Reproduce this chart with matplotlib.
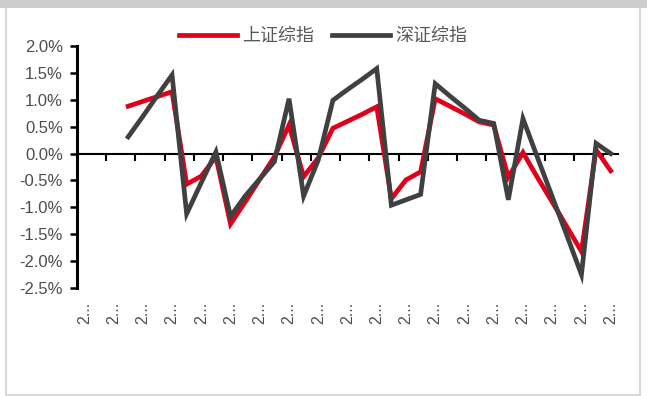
import numpy as np
import matplotlib.pyplot as plt
from matplotlib.patches import Rectangle
from matplotlib.ticker import FuncFormatter

plt.rcParams['font.family'] = ['Liberation Sans', 'DejaVu Sans']

# daily change, %; first three days have no data
nan = np.nan
sh_comp = [nan, nan, nan, 0.88, 0.97, 1.06, 1.15, -0.57, -0.42, -0.06, -1.31, -0.90, -0.48,
           -0.06, 0.53, -0.43, -0.08, 0.47, 0.60, 0.73, 0.87, -0.84, -0.49, -0.34, 1.02,
           0.88, 0.74, 0.59, 0.53, -0.44, 0.02, -0.45, -0.90, -1.36, -1.82, 0.07, -0.32]
sz_comp = [nan, nan, nan, 0.31, 0.69, 1.08, 1.46, -1.12, -0.54, 0.03, -1.17, -0.79, -0.47,
           -0.15, 1.02, -0.79, -0.12, 0.99, 1.19, 1.38, 1.58, -0.96, -0.86, -0.76, 1.30,
           1.07, 0.85, 0.62, 0.56, -0.86, 0.65, -0.08, -0.80, -1.52, -2.25, 0.19, 0.00]
date_labels = ['2...'] * 19
y_ticks = [-2.5, -2.0, -1.5, -1.0, -0.5, 0.0, 0.5, 1.0, 1.5, 2.0]

x = np.arange(len(sh_comp))

fig = plt.figure(figsize=(6.47, 3.96), dpi=100)

# chart border and header band
fig.add_artist(Rectangle((6 / 647, 1 / 396), 634 / 647, 392 / 396, transform=fig.transFigure,
                         fill=False, edgecolor='#d9d9d9', lw=1.5, zorder=0))
fig.add_artist(Rectangle((0, 1 - 8 / 396), 1, 8 / 396, transform=fig.transFigure,
                         facecolor='#cccccc', edgecolor='none', zorder=0))

ax = fig.add_axes([77 / 647, 1 - 288 / 396, 541 / 647, 242 / 396])

ax.plot(x, sh_comp, color='#e0001b', lw=3.4, solid_joinstyle='miter', label='上证综指', zorder=3)
ax.plot(x, sz_comp, color='#404040', lw=3.4, solid_joinstyle='miter', label='深证综指', zorder=4)

ax.set_xlim(-0.5, len(x) - 0.5)
ax.set_ylim(-2.5, 2.0)

for s in ['top', 'right']:
    ax.spines[s].set_visible(False)
# x axis crosses at zero, ticks every two days
ax.spines['bottom'].set_position(('data', 0))
ax.spines['bottom'].set_color('black')
ax.spines['bottom'].set_linewidth(1.5)
ax.spines['left'].set_color('black')
ax.spines['left'].set_linewidth(2.2)
ax.set_yticks(y_ticks)
ax.yaxis.set_major_formatter(FuncFormatter(lambda v, p: f'{v:.1f}%'))
ax.tick_params(axis='y', length=5, width=1.8, color='black', pad=5,
               labelsize=12, labelcolor='#4d4d4d')
ax.set_xticks(np.arange(1.5, len(x) - 1, 2))
ax.tick_params(axis='x', length=5, width=1.5, color='black', labelbottom=False)

# date labels every other day, below the plot area
for i, lab in zip(x[::2], date_labels):
    ax.text(i, -0.055, lab, transform=ax.get_xaxis_transform(), rotation=90,
            ha='center', va='top', fontsize=11.5, color='#4d4d4d')

leg = fig.legend(loc='center', bbox_to_anchor=(323 / 647, 1 - 36 / 396), ncol=2, frameon=False,
                 handlelength=3.2, handletextpad=0.3, columnspacing=1.0,
                 prop={'family': ['Noto Sans CJK SC', 'DejaVu Sans'], 'size': 13})
for t in leg.get_texts():
    t.set_color('#595959')

fig.savefig('out.png', dpi=100)
